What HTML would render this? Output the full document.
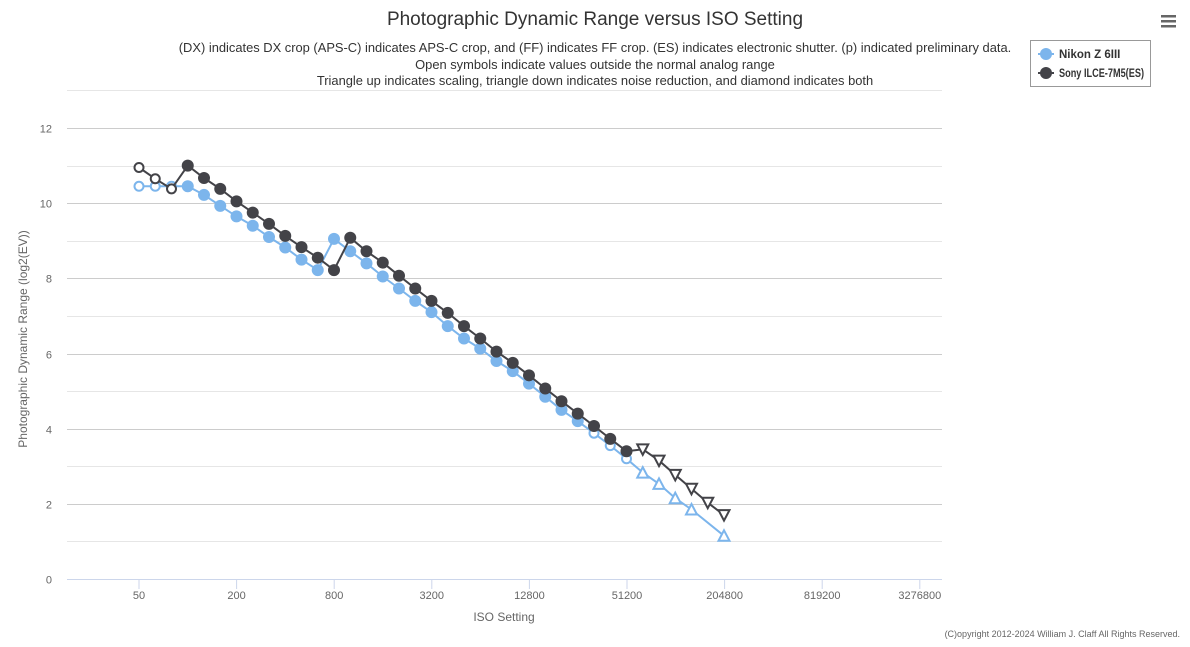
<!DOCTYPE html>
<html><head><meta charset="utf-8"><style>
body{margin:0;background:#fff;font-family:"Liberation Sans",sans-serif}
</style></head><body>
<svg id="s" width="1190" height="642" xmlns="http://www.w3.org/2000/svg" font-family="Liberation Sans, sans-serif">
<rect width="1190" height="642" fill="#fff"/>
<text x="595" y="25" text-anchor="middle" font-size="19" fill="#333">Photographic Dynamic Range versus ISO Setting</text>
<g font-size="12.9" fill="#333" text-anchor="middle">
<text x="595" y="52">(DX) indicates DX crop (APS-C) indicates APS-C crop, and (FF) indicates FF crop. (ES) indicates electronic shutter. (p) indicated preliminary data.</text>
<text x="595" y="69">Open symbols indicate values outside the normal analog range</text>
<text x="595" y="85">Triangle up indicates scaling, triangle down indicates noise reduction, and diamond indicates both</text>
</g>
<g id="grid"></g>
<text transform="translate(27,339) rotate(-90)" text-anchor="middle" font-size="12" fill="#666">Photographic Dynamic Range (log2(EV))</text>
<text x="504" y="621" text-anchor="middle" font-size="12" fill="#666">ISO Setting</text>
<text x="1180" y="637" text-anchor="end" font-size="9" fill="#666">(C)opyright 2012-2024 William J. Claff All Rights Reserved.</text>
<g id="series"></g>
<rect x="1030.5" y="40.5" width="120" height="46" fill="#fff" stroke="#999"/>
<line x1="1038" y1="54" x2="1054" y2="54" stroke="#7cb5ec" stroke-width="2"/><circle cx="1046" cy="54" r="6" fill="#7cb5ec"/>
<text x="1059" y="58" font-size="11.5" font-weight="bold" fill="#333">Nikon Z 6III</text>
<line x1="1038" y1="73" x2="1054" y2="73" stroke="#434348" stroke-width="2"/><circle cx="1046" cy="73" r="6" fill="#434348"/>
<text x="1059" y="77" font-size="11.5" font-weight="bold" fill="#333" textLength="85" lengthAdjust="spacingAndGlyphs">Sony ILCE-7M5(ES)</text>
<g fill="#666"><rect x="1161" y="15" width="15" height="2.5"/><rect x="1161" y="20" width="15" height="2.5"/><rect x="1161" y="25" width="15" height="2.5"/></g>
</svg>
<script>
var NS="http://www.w3.org/2000/svg";
function el(p,t,a){var e=document.createElementNS(NS,t);for(var k in a)e.setAttribute(k,a[k]);p.appendChild(e);return e;}
var g=document.getElementById('grid');
function Y(v){return 579-v*37.58;}
for(var v=0;v<=13;v++){var y=Math.round(Y(v))+0.5;el(g,'line',{x1:67,x2:942,y1:y,y2:y,stroke:v%2?'#e6e6e6':'#ccc'});
if(v%2==0&&v<=12){var t=el(g,'text',{x:52,y:y+4,'text-anchor':'end','font-size':11,fill:'#666'});t.textContent=v;}}
el(g,'line',{x1:67,x2:942,y1:579.5,y2:579.5,stroke:'#ccd6eb'});
var xl=['50','200','800','3200','12800','51200','204800','819200','3276800'];
xl.forEach(function(l,i){var x=139+i*97.6;el(g,'line',{x1:x,x2:x,y1:579,y2:589,stroke:'#ccd6eb'});var t=el(g,'text',{x:x,y:599,'text-anchor':'middle','font-size':11,fill:'#666'});t.textContent=l;});
function X(i){return 139+i*16.25;}
var nik=[10.45,10.45,10.45,10.45,10.22,9.93,9.65,9.4,9.1,8.82,8.5,8.22,9.05,8.72,8.4,8.05,7.73,7.4,7.1,6.73,6.4,6.13,5.8,5.53,5.2,4.85,4.5,4.2,3.88,3.55,3.2,2.83,2.53,2.15,1.85,null,1.15];
var nt="ooo"+"f".repeat(25)+"ooo"+"uuuu"+"-u";
var son=[10.95,10.65,10.38,11.0,10.67,10.38,10.05,9.75,9.45,9.13,8.83,8.55,8.22,9.08,8.72,8.42,8.07,7.73,7.4,7.08,6.73,6.4,6.05,5.75,5.42,5.07,4.73,4.4,4.07,3.73,3.4,3.45,3.15,2.77,2.4,2.03,1.7];
var st="ooo"+"f".repeat(28)+"dddddd";
var s=document.getElementById('series');
function draw(d,ty,c){var pts=[];d.forEach(function(v,i){if(v!=null)pts.push(X(i).toFixed(1)+','+Y(v).toFixed(1));});
el(s,'polyline',{points:pts.join(' '),fill:'none',stroke:c,'stroke-width':2});
d.forEach(function(v,i){if(v==null)return;var x=X(i),y=Y(v),t=ty[i];
if(t=='f')el(s,'circle',{cx:x,cy:y,r:6,fill:c});
else if(t=='o')el(s,'circle',{cx:x,cy:y,r:4.5,fill:'#fff',stroke:c,'stroke-width':2});
else if(t=='u')el(s,'path',{d:'M'+x+','+(y-5.5)+'L'+(x+5.5)+','+(y+5)+'L'+(x-5.5)+','+(y+5)+'Z',fill:'#fff',stroke:c,'stroke-width':2});
else if(t=='d')el(s,'path',{d:'M'+x+','+(y+5.5)+'L'+(x+5.5)+','+(y-5)+'L'+(x-5.5)+','+(y-5)+'Z',fill:'#fff',stroke:c,'stroke-width':2});});}
draw(nik,nt,'#7cb5ec');draw(son,st,'#434348');
</script>
</body></html>
